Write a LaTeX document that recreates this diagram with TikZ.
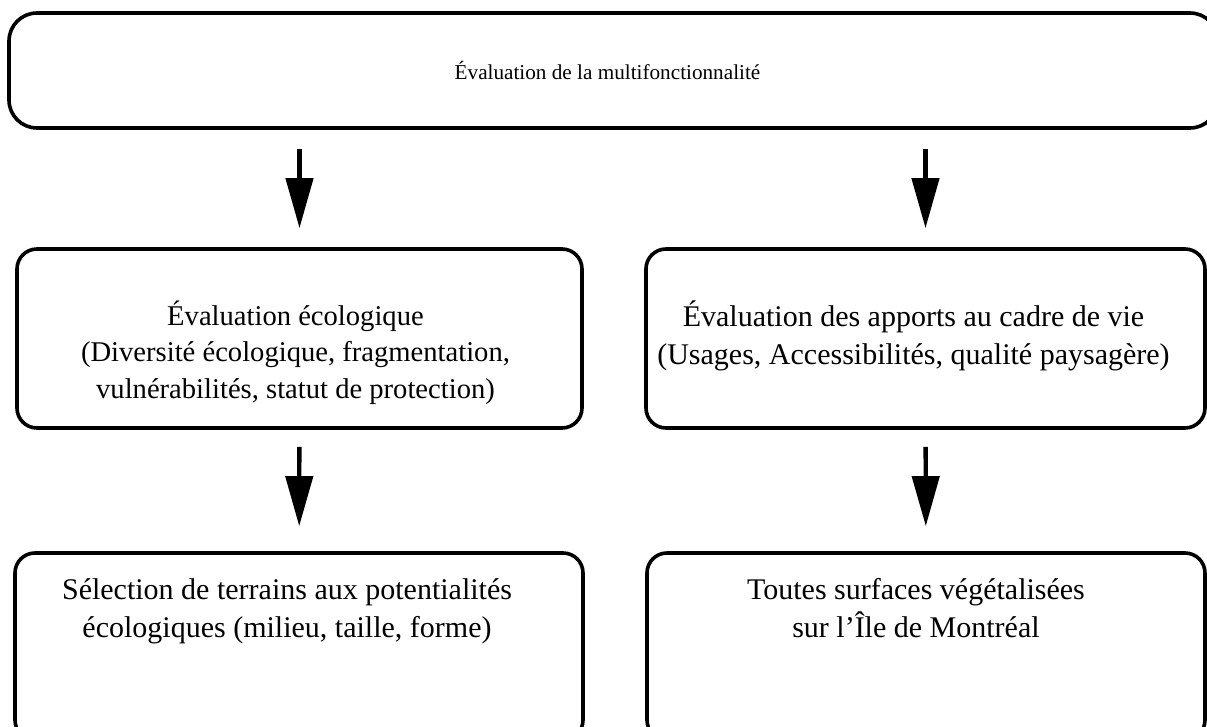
\documentclass[tikz,border=0pt]{standalone}
\usepackage{fontspec}
\setmainfont{Liberation Serif}
\usepackage{tikz}
\usetikzlibrary{arrows.meta, positioning}

\begin{document}
\begin{tikzpicture}[
  x=0.5pt, y=-0.5pt,
  stage/.style={draw, line width=1.8pt, rounded corners=10pt, inner sep=0pt},
  blurb/.style={align=center, inner sep=0pt, font=\fontsize{15}{19}\selectfont},
  flow/.style={-{Triangle[width=13.5pt, length=25pt]}, line width=2.2pt}
]
\useasboundingbox (0,0) rectangle (1207,727);
\clip (0,0) rectangle (1207,727);

% Top box
\node[stage, rounded corners=14pt, minimum width=604.5pt, minimum height=57.5pt]
  (multi) at (613.5,70.5) {};
\node[blurb, font=\fontsize{10.6}{13}\selectfont, xshift=-3pt] (multiTxt) at (multi)
  {Évaluation de la multifonctionnalité};

% Middle row
\node[stage, minimum width=282.5pt, minimum height=89.5pt] (eco) at (299.5,338.5) {};
\node[stage, minimum width=279.5pt, minimum height=89.5pt] (cadre) at (925.5,338.5) {};
\node[blurb, font=\fontsize{14.3}{18.3}\selectfont, below=26.5pt of eco.north, xshift=-2pt] (ecoTxt)
  {Évaluation écologique\\(Diversité écologique, fragmentation,\\vulnérabilités, statut de protection)};
\node[blurb, below=26.5pt of cadre.north, xshift=-6pt] (cadreTxt)
  {Évaluation des apports au cadre de vie\\(Usages, Accessibilités, qualité paysagère)};

% Bottom row
\node[stage, minimum width=284pt, minimum height=93.5pt] (select) at (299,646.5) {};
\node[stage, minimum width=279pt, minimum height=93.5pt] (surf) at (926,646.5) {};
\node[blurb, below=13.5pt of select.north, xshift=-6pt] (selectTxt)
  {Sélection de terrains aux potentialités\\écologiques (milieu, taille, forme)};
\node[blurb, below=13.5pt of surf.north, xshift=-5pt] (surfTxt)
  {Toutes surfaces végétalisées\\sur l’Île de Montréal};

% Arrows
\draw[flow, shorten <=9.5pt, shorten >=9.5pt] (multi.south -| eco.north) -- (eco.north);
\draw[flow, shorten <=9.5pt, shorten >=9.5pt] (multi.south -| cadre.north) -- (cadre.north);
\draw[flow, shorten <=8.5pt, shorten >=12.5pt] (eco) -- (select);
\draw[flow, shorten <=8.5pt, shorten >=12.5pt] (cadre) -- (surf);

\end{tikzpicture}
\end{document}
